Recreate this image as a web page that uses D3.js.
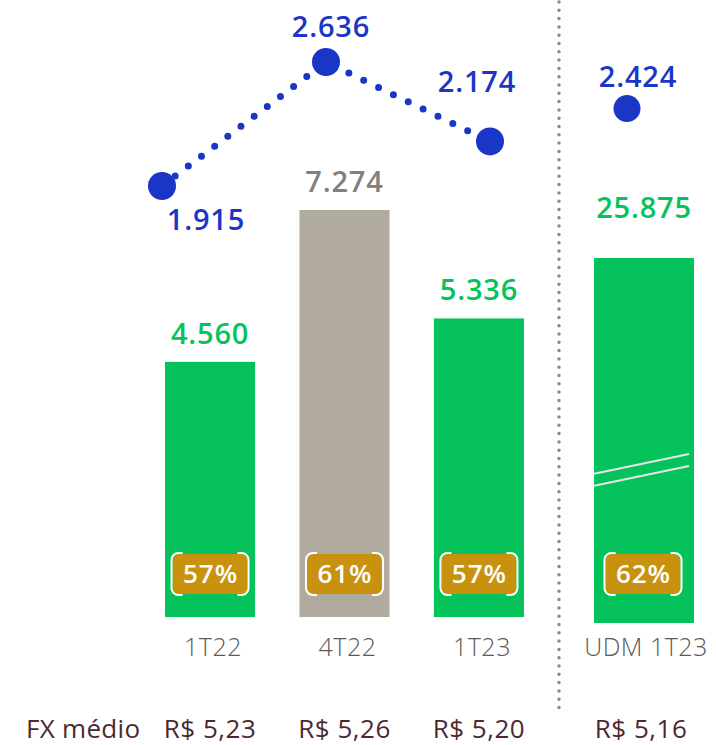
<!DOCTYPE html>
<html>
<head>
<meta charset="utf-8">
<script src="https://cdn.jsdelivr.net/npm/d3@7"></script>
<style>
  body { margin: 0; background: #fff; }
  text { font-family: "Open Sans", "Noto Sans", sans-serif; }
</style>
</head>
<body>
<div id="chart"></div>
<script>
const width = 716;
const height = 745;

// data
const quarters = ["1T22", "4T22", "1T23"];
const barValues = [4560, 7274, 5336];
const barLabels = ["4.560", "7.274", "5.336"];
const lineValues = [1915, 2636, 2174];
const lineLabels = ["1.915", "2.636", "2.174"];
const pctLabels = ["57%", "61%", "57%"];
const fxLabels = ["R$ 5,23", "R$ 5,26", "R$ 5,20"];

const udmCategory = "UDM 1T23";
const udmBarValue = 25875;
const udmBarLabel = "25.875";
const udmLineValue = 2424;
const udmLineLabel = "2.424";
const udmPct = "62%";
const udmFx = "R$ 5,16";

const green = "#05c35a";
const grey = "#b0aa9f";
const blue = "#1a36c6";
const gold = "#c8920f";
const fxColor = "#4b2a2f";

const svg = d3.select("#chart")
    .append("svg")
    .attr("width", width)
    .attr("height", height);

// scales
const x = d3.scaleBand()
    .domain(quarters)
    .range([165, 524])
    .paddingInner(0.33)
    .paddingOuter(0);

const xLine = d3.scalePoint()
    .domain(quarters)
    .range([162, 490]);

const yBar = d3.scaleLinear()
    .domain([0, 7274])
    .range([617, 210]);

const yLine = d3.scaleLinear()
    .domain([1915, 2636])
    .range([186, 62]);

const xUdm = d3.scaleBand()
    .domain([udmCategory])
    .range([594, 694]);

const yUdm = d3.scaleLinear()
    .domain([0, udmBarValue])
    .range([623, 258]);

const yLineUdm = d3.scaleLinear()
    .domain([1915, 2636])
    .range([196, 72]);

// divider
svg.append("line")
    .attr("x1", 559).attr("x2", 559)
    .attr("y1", 2).attr("y2", 712)
    .attr("stroke", "#8a8a8a")
    .attr("stroke-width", 3.5)
    .attr("stroke-linecap", "round")
    .attr("stroke-dasharray", "0,8.3");

// bars
svg.selectAll(".bar")
    .data(quarters)
    .enter()
    .append("rect")
    .attr("class", "bar")
    .attr("x", d => x(d))
    .attr("y", (d, i) => yBar(barValues[i]))
    .attr("width", x.bandwidth())
    .attr("height", (d, i) => yBar(0) - yBar(barValues[i]))
    .attr("fill", d => d === "4T22" ? grey : green);

svg.append("rect")
    .attr("x", xUdm(udmCategory))
    .attr("y", yUdm(udmBarValue))
    .attr("width", xUdm.bandwidth())
    .attr("height", yUdm(0) - yUdm(udmBarValue))
    .attr("fill", green);

// axis break marks on the UDM bar
const bx0 = xUdm(udmCategory) - 1;
const bx1 = xUdm(udmCategory) + xUdm.bandwidth() - 5;
[0, 12].forEach(off => {
    svg.append("line")
        .attr("x1", bx0).attr("y1", 474 + off)
        .attr("x2", bx1).attr("y2", 454 + off)
        .attr("stroke", "#e6e6e6")
        .attr("stroke-width", 2.2);
});

// bar value labels
svg.selectAll(".bar-label")
    .data(quarters)
    .enter()
    .append("text")
    .attr("class", "bar-label")
    .attr("x", d => x(d) + x.bandwidth() / 2)
    .attr("y", (d, i) => yBar(barValues[i]) - 18)
    .attr("text-anchor", "middle")
    .style("font-size", "29px")
    .style("font-weight", 600)
    .style("letter-spacing", "0.8px")
    .style("fill", d => d === "4T22" ? "#808080" : green)
    .text((d, i) => barLabels[i]);

svg.append("text")
    .attr("x", xUdm(udmCategory) + xUdm.bandwidth() / 2)
    .attr("y", yUdm(udmBarValue) - 40)
    .attr("text-anchor", "middle")
    .style("font-size", "29px")
    .style("font-weight", 600)
    .style("letter-spacing", "0.8px")
    .style("fill", green)
    .text(udmBarLabel);

// percentage badges
function badge(cx, label) {
    const w = 77, h = 42, r = 7, cy = 574;
    const x0 = cx - w / 2, y0 = cy - h / 2;
    const g = svg.append("g");
    g.append("rect")
        .attr("x", x0 + 1).attr("y", y0 + 1)
        .attr("width", w - 2).attr("height", h - 2)
        .attr("rx", r)
        .attr("fill", gold);
    const arm = 4;
    g.append("path")
        .attr("d", `M${x0 + r + arm},${y0} H${x0 + r} A${r},${r} 0 0 0 ${x0},${y0 + r} V${y0 + h - r} A${r},${r} 0 0 0 ${x0 + r},${y0 + h} H${x0 + r + arm}`)
        .attr("fill", "none").attr("stroke", "#fff").attr("stroke-width", 2);
    const x1 = x0 + w;
    g.append("path")
        .attr("d", `M${x1 - r - arm},${y0} H${x1 - r} A${r},${r} 0 0 1 ${x1},${y0 + r} V${y0 + h - r} A${r},${r} 0 0 1 ${x1 - r},${y0 + h} H${x1 - r - arm}`)
        .attr("fill", "none").attr("stroke", "#fff").attr("stroke-width", 2);
    g.append("text")
        .attr("x", cx + 0.5)
        .attr("y", cy + 9)
        .attr("text-anchor", "middle")
        .style("font-size", "26px")
        .style("font-weight", 600)
        .style("letter-spacing", "1px")
        .style("fill", "#fff")
        .text(label);
}
quarters.forEach((d, i) => badge(x(d) + x.bandwidth() / 2, pctLabels[i]));
badge(xUdm(udmCategory) + xUdm.bandwidth() / 2 - 1, udmPct);

// dotted line + markers
const line = d3.line()
    .x((d, i) => xLine(quarters[i]))
    .y(d => yLine(d));

svg.append("path")
    .datum(lineValues)
    .attr("d", line)
    .attr("fill", "none")
    .attr("stroke", blue)
    .attr("stroke-width", 7)
    .attr("stroke-linecap", "round")
    .attr("stroke-dasharray", "0,16.5");

svg.selectAll(".dot")
    .data(lineValues)
    .enter()
    .append("circle")
    .attr("class", "dot")
    .attr("cx", (d, i) => xLine(quarters[i]))
    .attr("cy", d => yLine(d))
    .attr("r", 14)
    .attr("fill", blue);

const udmDotX = xUdm(udmCategory) + 33;
svg.append("circle")
    .attr("cx", udmDotX)
    .attr("cy", yLineUdm(udmLineValue))
    .attr("r", 13.5)
    .attr("fill", blue);

// line labels: offsets relative to markers
const lineLabelOffsets = [[44, 44], [5, -25], [-13, -49]];
svg.selectAll(".line-label")
    .data(lineValues)
    .enter()
    .append("text")
    .attr("class", "line-label")
    .attr("x", (d, i) => xLine(quarters[i]) + lineLabelOffsets[i][0])
    .attr("y", (d, i) => yLine(d) + lineLabelOffsets[i][1])
    .attr("text-anchor", "middle")
    .style("font-size", "29px")
    .style("font-weight", 600)
    .style("letter-spacing", "0.8px")
    .style("fill", blue)
    .text((d, i) => lineLabels[i]);

svg.append("text")
    .attr("x", udmDotX + 11)
    .attr("y", yLineUdm(udmLineValue) - 21)
    .attr("text-anchor", "middle")
    .style("font-size", "29px")
    .style("font-weight", 600)
    .style("letter-spacing", "0.8px")
    .style("fill", blue)
    .text(udmLineLabel);

// category labels
svg.selectAll(".cat")
    .data(quarters)
    .enter()
    .append("text")
    .attr("class", "cat")
    .attr("x", d => x(d) + x.bandwidth() / 2 + 3)
    .attr("y", 656)
    .attr("text-anchor", "middle")
    .style("font-size", "25px")
    .style("font-weight", 300)
    .style("letter-spacing", "0.5px")
    .style("fill", "#5a5a5a")
    .text(d => d);

svg.append("text")
    .attr("x", xUdm(udmCategory) + xUdm.bandwidth() / 2 + 2)
    .attr("y", 656)
    .attr("text-anchor", "middle")
    .style("font-size", "25px")
    .style("font-weight", 300)
    .style("letter-spacing", "0.5px")
    .style("fill", "#5a5a5a")
    .text(udmCategory);

// FX row
svg.append("text")
    .attr("x", 26)
    .attr("y", 738)
    .style("font-size", "26px")
    .style("letter-spacing", "0.3px")
    .style("fill", fxColor)
    .text("FX médio");

svg.selectAll(".fx")
    .data(quarters)
    .enter()
    .append("text")
    .attr("class", "fx")
    .attr("x", d => x(d) + x.bandwidth() / 2)
    .attr("y", 738)
    .attr("text-anchor", "middle")
    .style("font-size", "26px")
    .style("letter-spacing", "0.5px")
    .style("fill", fxColor)
    .text((d, i) => fxLabels[i]);

svg.append("text")
    .attr("x", xUdm(udmCategory) + xUdm.bandwidth() / 2 - 3)
    .attr("y", 738)
    .attr("text-anchor", "middle")
    .style("font-size", "26px")
    .style("letter-spacing", "0.5px")
    .style("fill", fxColor)
    .text(udmFx);
</script>
</body>
</html>
